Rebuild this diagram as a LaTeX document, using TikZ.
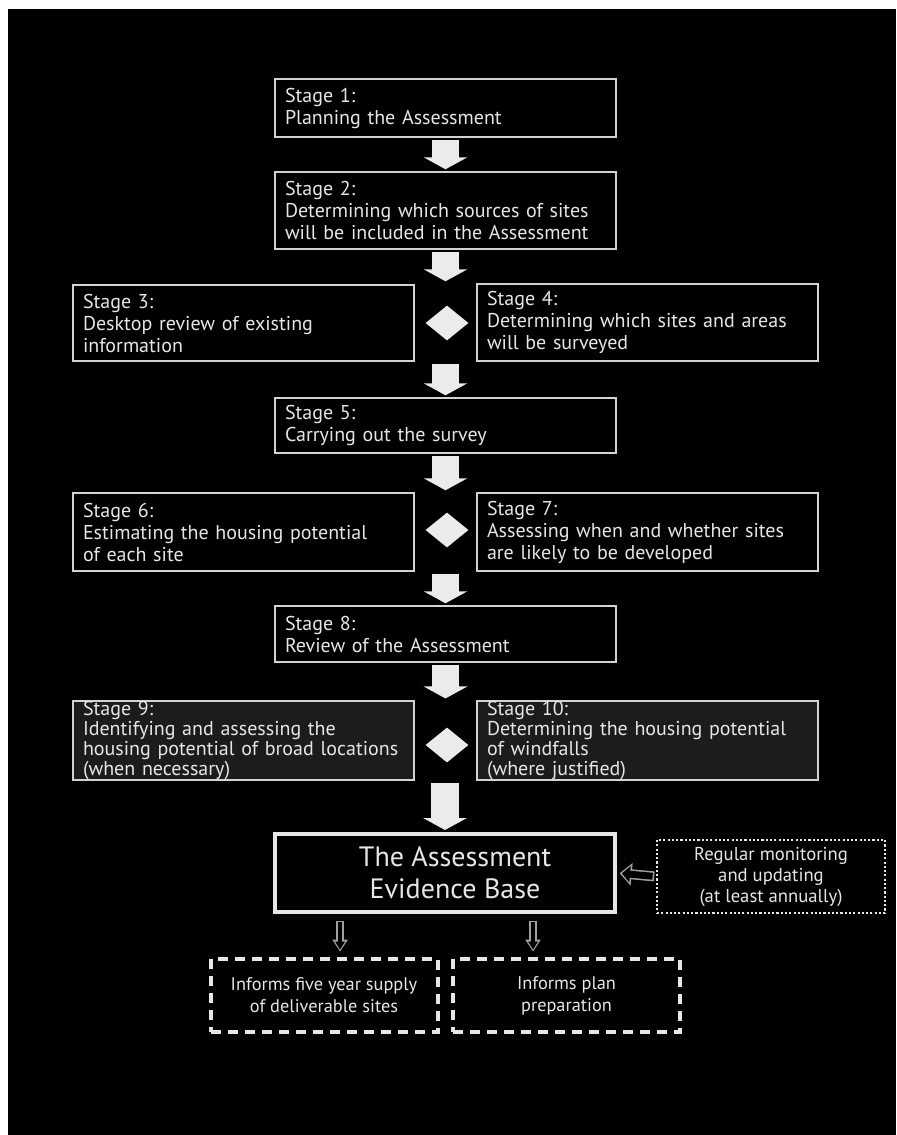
\documentclass[tikz,border=0pt]{standalone}
\usepackage{fontspec}
\setmainfont{PT Sans}
\usetikzlibrary{arrows.meta,shapes.geometric,calc}
\definecolor{fg}{HTML}{E6E6E6}
\definecolor{edge}{HTML}{D2D2D2}
\definecolor{darkfill}{HTML}{1C1C1C}
\definecolor{hollowc}{HTML}{A0A0A0}
\definecolor{blockc}{HTML}{EBEBEB}
\hyphenpenalty=10000
\exhyphenpenalty=10000
\begin{document}
\begin{tikzpicture}[x=0.75pt,y=-0.75pt,
  stagebox/.style={draw=edge, line width=1.1pt, fill=black, text=fg, align=left,
    anchor=center, inner xsep=7.5pt, inner ysep=0pt, text width=240.75pt,
    font=\fontsize{15}{16.5}\selectfont},
  fourline/.style={font=\fontsize{15}{15}\selectfont},
  diam/.style={diamond, fill=blockc, draw=none, inner sep=0pt,
    minimum width=32.25pt, minimum height=26.25pt},
  blockarrow/.style={draw=blockc, line width=20.5pt,
    -{Triangle[width=32.5pt,length=9pt]}, shorten <=1.5pt, shorten >=1.5pt},
  evbox/.style={draw=fg, line width=3pt, fill=black, text=fg, align=center,
    minimum width=255pt, minimum height=58.5pt, inner sep=0pt,
    font=\fontsize{21}{24}\selectfont},
  dottedbox/.style={draw=fg, line width=2.2pt, dash pattern=on 1.6pt off 1.6pt,
    fill=black, text=fg, align=center, minimum width=171pt, minimum height=54.75pt,
    inner sep=0pt, font=\fontsize{14}{15.75}\selectfont},
  dashbox/.style={draw=fg, line width=3pt, dash pattern=on 7.5pt off 5.25pt,
    fill=black, text=fg, align=center, minimum width=170.25pt, minimum height=54.75pt,
    inner sep=0pt, font=\fontsize{13.75}{16.5}\selectfont},
  hollowout/.style={draw=hollowc, line width=7.5pt, -{Triangle[width=16.5pt,length=9pt]}},
  hollowin/.style={draw=black, line width=5.2pt, -{Triangle[width=12pt,length=6pt]}},
  hollowdownout/.style={draw=hollowc, line width=5.5pt, -{Triangle[width=11pt,length=9pt]}},
  hollowdownin/.style={draw=black, line width=3.4pt, -{Triangle[width=7pt,length=6pt]}}
]
\fill[white] (0,0) rectangle (896,1135);
\fill[black] (8,9) rectangle (896,1135);
\useasboundingbox (0,0) rectangle (896,1135);

\node[stagebox, minimum height=43.5pt] (s1) at (445.5,108) {Stage 1:\\Planning the Assessment};
\node[stagebox, minimum height=57.75pt] (s2) at (445.5,210.5) {Stage 2:\\Determining which sources of sites\\will be included in the Assessment};
\node[stagebox, minimum height=57pt] (s3) at (243.5,323) {Stage 3:\\Desktop review of existing\\information};
\node[stagebox, minimum height=57.75pt] (s4) at (647.5,322.5) {Stage 4:\\Determining which sites and areas\\will be surveyed};
\node[diam] (d34) at (447,323) {};
\node[stagebox, minimum height=41.25pt] (s5) at (445.5,425.5) {Stage 5:\\Carrying out the survey};
\node[stagebox, minimum height=58.5pt] (s6) at (243.5,532) {Stage 6:\\Estimating the housing potential\\of each site};
\node[stagebox, minimum height=58.5pt] (s7) at (647.5,532) {Stage 7:\\Assessing when and whether sites\\are likely to be developed};
\node[diam] (d67) at (447,530) {};
\node[stagebox, minimum height=42pt] (s8) at (445.5,634) {Stage 8:\\Review of the Assessment};
\node[stagebox, fill=darkfill, minimum height=57.75pt, fourline] (s9) at (243.5,740.5) {Stage 9:\\Identifying and assessing the\\housing potential of broad locations\\(when necessary)};
\node[stagebox, fill=darkfill, minimum height=57.75pt, fourline] (s10) at (647.5,740.5) {Stage 10:\\Determining the housing potential\\of windfalls\\(where justified)};
\node[diam] (d910) at (447,745) {};

\node[evbox] (ev) at (445,873) {\hspace*{15pt}The Assessment\\\hspace*{15pt}Evidence Base};
\node[dottedbox] (mon) at (771,876.5) {Regular monitoring\\and updating\\(at least annually)};
\node[dashbox] (i1) at (324,995.5) {Informs five year supply\\of deliverable sites};
\node[dashbox] (i2) at (566.5,995.5) {Informs plan\\preparation};

% block arrows
\draw[blockarrow] (s1.south) -- (s2.north);
\draw[blockarrow] (s2.south) -- (s2.south |- s4.north);
\draw[blockarrow] (s5.north |- s4.south) -- (s5.north);
\draw[blockarrow] (s5.south) -- (s5.south |- s7.north);
\draw[blockarrow] (s8.north |- s7.south) -- (s8.north);
\draw[blockarrow] (s8.south) -- (s8.south |- s10.north);
\draw[blockarrow] (ev.north |- s10.south) -- (ev.north);

% hollow arrows
\coordinate (h1) at ($(ev.south west)!0.195!(ev.south east)$);
\coordinate (h2) at ($(ev.south west)!0.756!(ev.south east)$);
\draw[hollowout, shorten <=1pt, shorten >=2pt] (mon.west) -- (ev.east);
\draw[hollowin, shorten <=2.2pt, shorten >=3.8pt] (mon.west) -- (ev.east);
\draw[hollowdownout, shorten <=5pt, shorten >=4pt] (h1) -- (h1 |- i1.north);
\draw[hollowdownin, shorten <=6.1pt, shorten >=5.6pt] (h1) -- (h1 |- i1.north);
\draw[hollowdownout, shorten <=5pt, shorten >=4pt] (h2) -- (h2 |- i2.north);
\draw[hollowdownin, shorten <=6.1pt, shorten >=5.6pt] (h2) -- (h2 |- i2.north);
\end{tikzpicture}
\end{document}
